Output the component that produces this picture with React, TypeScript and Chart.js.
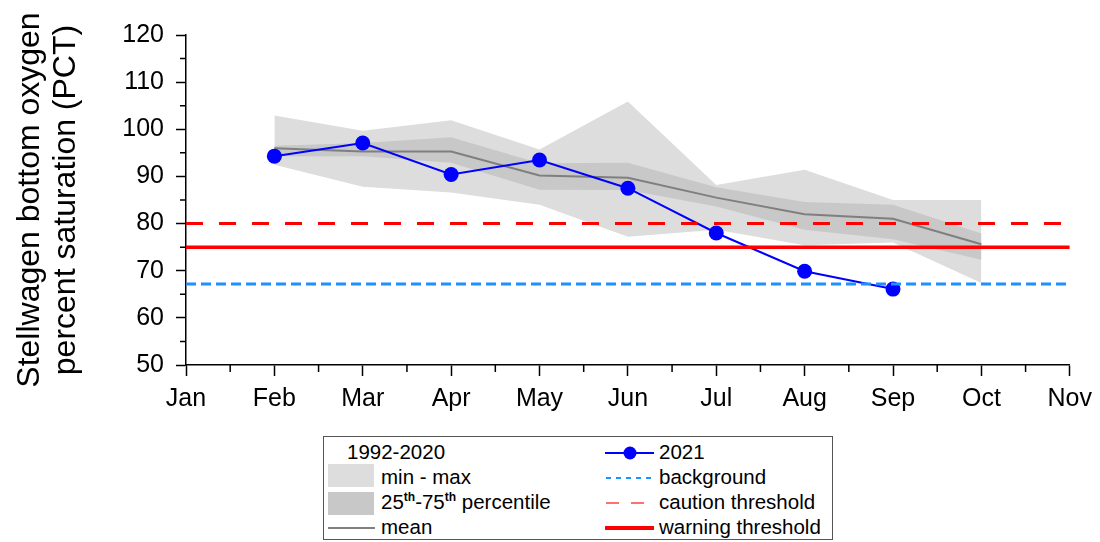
import React, { useEffect, useRef } from 'react';
import { Chart, registerables } from 'chart.js';

Chart.register(...registerables);

const monthLabels = ['Jan', 'Feb', 'Mar', 'Apr', 'May', 'Jun', 'Jul', 'Aug', 'Sep', 'Oct', 'Nov'];
const climMonths = [2, 3, 4, 5, 6, 7, 8, 9, 10];
const climMax = [102.9, 99.7, 101.9, 95.7, 105.9, 88.2, 91.4, 85.0, 85.0];
const climP75 = [96.5, 97.1, 98.3, 92.8, 92.9, 87.7, 84.6, 84.0, 77.9];
const climMean = [96.0, 95.3, 95.3, 90.2, 89.7, 85.5, 82.0, 81.0, 75.6];
const climP25 = [94.3, 94.3, 92.9, 87.2, 87.1, 83.6, 78.7, 76.7, 72.3];
const climMin = [92.5, 87.8, 86.6, 84.0, 77.2, 78.7, 75.4, 76.0, 67.4];
const obsMonths = [2, 3, 4, 5, 6, 7, 8, 9];
const obs2021 = [94.3, 97.1, 90.4, 93.5, 87.5, 78.0, 69.9, 66.1];
const backgroundLevel = 67.2;
const cautionLevel = 80;
const warningLevel = 75;
const xMin = 1;
const xMax = 11;
const yMin = 50;
const yMax = 120;
const xMinorTicks = [1.5, 2.5, 3.5, 4.5, 5.5, 6.5, 7.5, 8.5, 9.5, 10.5];
const yMinorTicks = [55, 65, 75, 85, 95, 105, 115];

const FONT = "'Liberation Sans', Arial, sans-serif";

const toPts = (xs: number[], ys: number[]) => xs.map((x, i) => ({ x, y: ys[i] }));
const hLine = (v: number) => [{ x: xMin, y: v }, { x: xMax, y: v }];

const minorTicksPlugin = {
  id: 'minorTicks',
  afterDraw(chart: any) {
    const { ctx, scales } = chart;
    const x = scales.x;
    const y = scales.y;
    ctx.save();
    ctx.strokeStyle = '#000';
    ctx.lineWidth = 1.5;
    ctx.beginPath();
    for (const v of xMinorTicks) {
      const px = x.getPixelForValue(v);
      ctx.moveTo(px, x.top);
      ctx.lineTo(px, x.top + 7);
    }
    for (const v of yMinorTicks) {
      const py = y.getPixelForValue(v);
      ctx.moveTo(y.right, py);
      ctx.lineTo(y.right - 6, py);
    }
    ctx.stroke();
    ctx.restore();
  },
};

const band = { borderColor: 'transparent', borderWidth: 0, pointRadius: 0, tension: 0 };

function LegendBox() {
  const text: React.CSSProperties = {
    position: 'absolute',
    fontSize: 20.5,
    lineHeight: '24px',
    color: '#000',
    whiteSpace: 'nowrap',
    fontFamily: FONT,
  };
  const rowC = [16, 41, 66, 91];
  const sup: React.CSSProperties = { fontSize: 12, fontWeight: 'bold', verticalAlign: 'top', lineHeight: '14px' };
  return (
    <div
      style={{
        position: 'absolute',
        left: 323,
        top: 436,
        width: 510,
        height: 104,
        border: '1px solid #555',
        boxSizing: 'border-box',
        background: '#fff',
      }}
    >
      <div style={{ ...text, left: 23, top: rowC[0] - 13 }}>1992-2020</div>
      <div style={{ position: 'absolute', left: 4, top: 27, width: 46, height: 23, background: '#dddddd' }} />
      <div style={{ ...text, left: 57, top: rowC[1] - 13 }}>min - max</div>
      <div style={{ position: 'absolute', left: 4, top: 55, width: 46, height: 23, background: '#c8c8c8' }} />
      <div style={{ ...text, left: 57, top: rowC[2] - 13 }}>
        25<span style={sup}>th</span>-75<span style={sup}>th</span> percentile
      </div>
      <svg style={{ position: 'absolute', left: 4, top: rowC[3] - 5 }} width={48} height={10}>
        <line x1={0} y1={5} x2={47} y2={5} stroke="#808080" strokeWidth={2} />
      </svg>
      <div style={{ ...text, left: 57, top: rowC[3] - 13 }}>mean</div>

      <svg style={{ position: 'absolute', left: 281, top: rowC[0] - 10 }} width={50} height={20}>
        <line x1={0} y1={10} x2={49} y2={10} stroke="#0000ff" strokeWidth={2} />
        <circle cx={25} cy={10} r={6.5} fill="#0000ff" />
      </svg>
      <div style={{ ...text, left: 335, top: rowC[0] - 13 }}>2021</div>
      <svg style={{ position: 'absolute', left: 281, top: rowC[1] - 5 }} width={50} height={10}>
        <line x1={1} y1={5} x2={49} y2={5} stroke="#1e90ff" strokeWidth={2} strokeDasharray="5 5" />
      </svg>
      <div style={{ ...text, left: 335, top: rowC[1] - 13 }}>background</div>
      <svg style={{ position: 'absolute', left: 281, top: rowC[2] - 5 }} width={50} height={10}>
        <line x1={1} y1={5} x2={49} y2={5} stroke="#ff7070" strokeWidth={2} strokeDasharray="13 12" />
      </svg>
      <div style={{ ...text, left: 335, top: rowC[2] - 13 }}>caution threshold</div>
      <svg style={{ position: 'absolute', left: 281, top: rowC[3] - 5 }} width={50} height={10}>
        <line x1={0} y1={5} x2={49} y2={5} stroke="#ff0000" strokeWidth={4} />
      </svg>
      <div style={{ ...text, left: 335, top: rowC[3] - 13 }}>warning threshold</div>
    </div>
  );
}

export default function App() {
  const ref = useRef<HTMLCanvasElement>(null);

  useEffect(() => {
    if (!ref.current) return;
    const chart = new Chart(ref.current, {
      type: 'line',
      data: {
        datasets: [
          {
            label: 'warning threshold',
            data: hLine(warningLevel),
            borderColor: '#ff0000',
            borderWidth: 3.5,
            pointRadius: 0,
            fill: false,
            order: 0,
          },
          {
            label: 'caution threshold',
            data: hLine(cautionLevel),
            borderColor: '#ff0000',
            borderWidth: 3,
            borderDash: [17, 16],
            pointRadius: 0,
            fill: false,
            order: 0,
          },
          {
            label: 'background',
            data: hLine(backgroundLevel),
            borderColor: '#1e90ff',
            borderWidth: 3,
            borderDash: [10, 5],
            pointRadius: 0,
            fill: false,
            order: 0,
          },
          {
            label: '2021',
            data: toPts(obsMonths, obs2021),
            borderColor: '#0000ff',
            backgroundColor: '#0000ff',
            borderWidth: 2,
            pointRadius: 7.5,
            pointBorderWidth: 0,
            pointBackgroundColor: '#0000ff',
            fill: false,
            order: 1,
          },
          {
            label: 'mean',
            data: toPts(climMonths, climMean),
            borderColor: '#7f7f7f',
            borderWidth: 2,
            pointRadius: 0,
            fill: false,
            order: 2,
          },
          {
            label: '75th percentile',
            data: toPts(climMonths, climP75),
            ...band,
            backgroundColor: '#c8c8c8',
            fill: '+1',
            order: 3,
          },
          {
            label: '25th percentile',
            data: toPts(climMonths, climP25),
            ...band,
            fill: false,
            order: 3,
          },
          {
            label: 'max',
            data: toPts(climMonths, climMax),
            ...band,
            backgroundColor: '#dddddd',
            fill: '+1',
            order: 4,
          },
          {
            label: 'min',
            data: toPts(climMonths, climMin),
            ...band,
            fill: false,
            order: 4,
          },
        ],
      } as any,
      options: {
        animation: false,
        responsive: false,
        devicePixelRatio: 1,
        layout: { padding: { top: 35, right: 29, left: 0, bottom: 0 } },
        plugins: {
          legend: { display: false },
          tooltip: { enabled: false },
        },
        scales: {
          x: {
            type: 'linear',
            min: xMin,
            max: xMax,
            afterFit: (s: any) => {
              s.height = 177;
            },
            ticks: {
              stepSize: 1,
              autoSkip: false,
              maxRotation: 0,
              padding: 8,
              color: '#000',
              font: { family: FONT, size: 25 },
              callback: (v: any) => monthLabels[Math.round(Number(v)) - 1] ?? '',
            },
            grid: {
              drawOnChartArea: false,
              drawTicks: true,
              tickLength: 11,
              tickWidth: 1.5,
              tickColor: '#000',
            },
            border: { color: '#000', width: 1.5 },
          },
          y: {
            type: 'linear',
            min: yMin,
            max: yMax,
            afterFit: (s: any) => {
              s.width = 186;
            },
            ticks: {
              stepSize: 10,
              padding: 12,
              color: '#000',
              font: { family: FONT, size: 25 },
            },
            grid: {
              drawOnChartArea: false,
              drawTicks: true,
              tickLength: 10,
              tickWidth: 1.5,
              tickColor: '#000',
            },
            border: { color: '#000', width: 1.5 },
            title: {
              display: true,
              text: ['Stellwagen bottom oxygen', 'percent saturation (PCT)'],
              color: '#000',
              font: { family: FONT, size: 32, lineHeight: 1.125 },
              padding: { top: 12, bottom: 0 },
            },
          },
        },
      } as any,
      plugins: [minorTicksPlugin],
    });
    return () => chart.destroy();
  }, []);

  return (
    <div
      style={{
        position: 'absolute',
        left: 0,
        top: 0,
        width: 1100,
        height: 542,
        background: '#fff',
        overflow: 'hidden',
      }}
    >
      <canvas ref={ref} width={1100} height={542} style={{ display: 'block', width: 1100, height: 542 }} />
      <LegendBox />
    </div>
  );
}
